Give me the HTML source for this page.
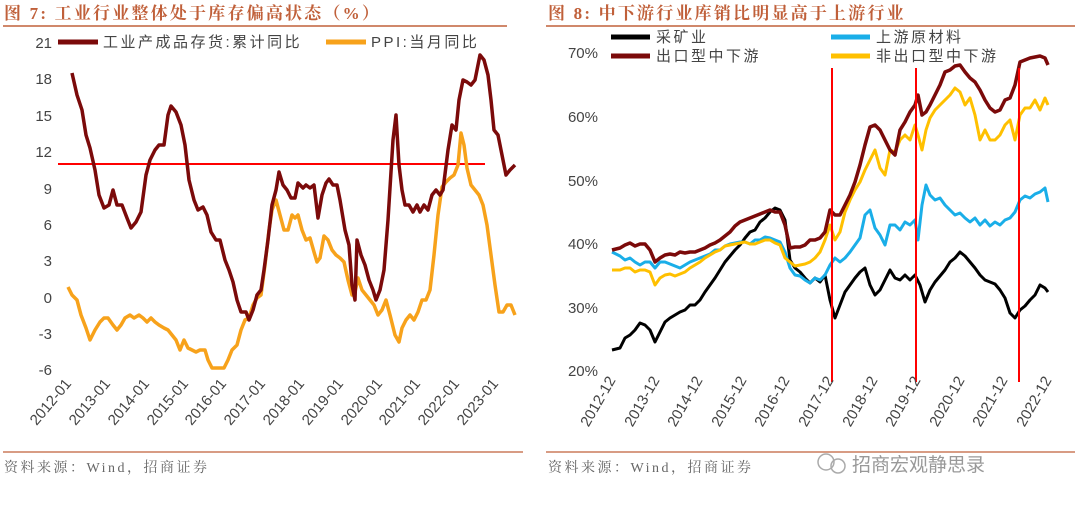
<!DOCTYPE html>
<html><head><meta charset="utf-8"><style>
body{margin:0;background:#fff;width:1080px;height:508px;overflow:hidden}
svg{display:block}
text{font-family:"Liberation Sans","Noto Sans CJK SC",sans-serif}
.t{font-family:"Liberation Serif","Noto Serif CJK SC",serif;font-weight:bold;fill:#c0603a;font-size:17px;letter-spacing:2.2px}
.ax{font-size:15px;fill:#444}
.lg{font-size:15px;fill:#444;letter-spacing:2.5px}
.src{font-family:"Liberation Serif","Noto Serif CJK SC",serif;font-size:14px;fill:#666;letter-spacing:2.5px}
</style></head><body>
<svg width="1080" height="508" viewBox="0 0 1080 508">
<text x="4" y="19" class="t">图 7:  工业行业整体处于库存偏高状态（%）</text>
<line x1="3" y1="26" x2="507" y2="26" stroke="#c0603a" stroke-width="1.5"/>
<text x="548" y="19" class="t">图 8:  中下游行业库销比明显高于上游行业</text>
<line x1="546" y1="26" x2="1075" y2="26" stroke="#c0603a" stroke-width="1.5"/>

<g class="ax" text-anchor="end">
<text x="52" y="48">21</text><text x="52" y="84">18</text><text x="52" y="121">15</text><text x="52" y="157">12</text><text x="52" y="194">9</text><text x="52" y="230">6</text><text x="52" y="266">3</text><text x="52" y="303">0</text><text x="52" y="339">-3</text><text x="52" y="375">-6</text>
</g>
<line x1="58" y1="42" x2="98" y2="42" stroke="#7b0a0a" stroke-width="5"/>
<text x="103" y="47" class="lg">工业产成品存货:累计同比</text>
<line x1="326" y1="42" x2="366" y2="42" stroke="#f7a21b" stroke-width="5"/>
<text x="371" y="47" class="lg">PPI:当月同比</text>
<line x1="58" y1="164" x2="485" y2="164" stroke="#f00" stroke-width="2"/>
<polyline fill="none" stroke="#f7a21b" stroke-width="3.5" stroke-linejoin="round" points="68,287 72,295 77,300 81,315 86,328 90,340 95,330 100,322 104,318 108,318 113,325 117,330 121,325 125,318 130,315 134,318 139,315 143,318 147,322 151,318 155,322 159,325 164,328 168,330 172,335 176,340 180,350 184,340 188,348 192,350 196,352 200,350 205,350 208,360 212,368 216,368 220,368 224,368 228,360 232,350 237,345 241,330 245,320 249,318 253,305 257,298 261,295 265,265 269,230 272,210 276,200 280,215 284,230 288,230 292,215 295,218 298,215 302,230 306,240 310,238 314,252 317,262 320,258 324,236 328,240 332,250 336,255 340,258 344,262 348,280 352,295 355,292 358,278 362,290 366,295 370,300 374,305 378,315 382,310 386,300 390,315 395,335 399,342 402,328 406,320 410,315 414,320 418,312 422,300 426,300 430,290 434,255 438,215 442,187 446,182 450,178 454,175 458,165 461,133 464,145 467,168 471,185 475,190 479,195 483,205 487,225 491,255 495,285 499,312 503,312 507,305 511,305 515,315"/>
<polyline fill="none" stroke="#7b0a0a" stroke-width="3.5" stroke-linejoin="round" points="72,73 77,95 82,110 86,135 90,148 95,170 99,195 104,208 109,205 113,190 117,205 122,205 127,218 131,228 136,222 141,212 146,175 150,160 155,150 159,145 164,145 168,115 171,106 176,112 181,125 185,145 189,180 194,200 198,210 203,207 207,215 211,232 216,240 220,240 225,260 229,270 233,282 237,300 241,312 246,312 249,320 253,310 257,295 261,290 264,270 268,240 272,205 276,190 279,172 283,185 287,190 291,198 295,198 298,183 303,188 306,185 310,188 314,185 318,218 322,195 326,183 329,179 333,185 337,185 340,200 345,230 349,245 352,285 355,300 357,240 361,255 365,265 369,280 373,290 376,300 380,290 384,270 388,220 393,140 396,115 399,165 402,190 405,205 409,205 413,212 417,205 420,212 424,205 428,210 432,195 436,190 440,195 443,190 448,150 452,125 456,130 459,100 463,80 467,82 471,85 475,80 478,65 480,55 484,60 488,75 491,100 494,130 498,135 502,155 506,175 510,170 515,165"/>
<g class="ax" text-anchor="end">
<text transform="translate(72,384) rotate(-50)">2012-01</text>
<text transform="translate(111,384) rotate(-50)">2013-01</text>
<text transform="translate(150,384) rotate(-50)">2014-01</text>
<text transform="translate(189,384) rotate(-50)">2015-01</text>
<text transform="translate(227,384) rotate(-50)">2016-01</text>
<text transform="translate(266,384) rotate(-50)">2017-01</text>
<text transform="translate(305,384) rotate(-50)">2018-01</text>
<text transform="translate(344,384) rotate(-50)">2019-01</text>
<text transform="translate(383,384) rotate(-50)">2020-01</text>
<text transform="translate(421,384) rotate(-50)">2021-01</text>
<text transform="translate(460,384) rotate(-50)">2022-01</text>
<text transform="translate(499,384) rotate(-50)">2023-01</text>
</g>

<g class="ax" text-anchor="end">
<text x="598" y="58">70%</text><text x="598" y="122">60%</text><text x="598" y="186">50%</text><text x="598" y="249">40%</text><text x="598" y="313">30%</text><text x="598" y="376">20%</text>
</g>
<line x1="611" y1="37" x2="650" y2="37" stroke="#000" stroke-width="5"/>
<text x="656" y="42" class="lg">采矿业</text>
<line x1="831" y1="37" x2="870" y2="37" stroke="#1aaee8" stroke-width="5"/>
<text x="876" y="42" class="lg">上游原材料</text>
<line x1="611" y1="56" x2="650" y2="56" stroke="#7b0a0a" stroke-width="5"/>
<text x="656" y="61" class="lg">出口型中下游</text>
<line x1="831" y1="56" x2="870" y2="56" stroke="#ffc000" stroke-width="5"/>
<text x="876" y="61" class="lg">非出口型中下游</text>

<polyline fill="none" stroke="#000" stroke-width="3" stroke-linejoin="round" points="612,350 620,348 625,338 630,335 635,330 640,323 645,325 650,330 655,342 660,332 665,322 670,318 675,315 680,312 685,310 690,305 695,305 700,300 705,292 710,285 715,278 720,270 725,262 730,256 735,250 740,245 745,238 750,232 755,230 760,222 765,218 770,212 775,208 780,210 785,220 790,260 795,268 800,272 805,278 810,283 815,278 820,282 825,275 830,300 835,318 840,305 845,292 850,285 855,278 860,272 865,268 870,285 875,295 880,290 885,280 890,270 895,278 900,280 905,275 910,280 915,275 920,285 925,302 930,290 935,282 940,276 945,270 950,262 955,258 960,252 965,256 970,262 975,268 980,275 985,280 990,282 995,284 1000,290 1005,298 1010,313 1015,318 1020,310 1025,306 1030,300 1035,295 1040,285 1045,288 1048,292"/>
<polyline fill="none" stroke="#1aaee8" stroke-width="3" stroke-linejoin="round" points="612,252 620,256 625,260 630,258 635,262 640,265 645,262 650,262 655,268 660,262 665,262 670,264 675,266 680,268 685,265 690,262 695,260 700,258 710,254 715,250 720,250 725,246 730,244 740,242 745,242 750,244 755,240 760,240 765,237 770,238 775,240 780,242 785,252 790,268 795,275 800,276 805,280 810,283 815,278 820,280 825,275 830,265 835,258 840,262 845,258 850,252 855,245 860,238 865,215 870,210 875,228 880,235 885,245 890,225 895,225 900,230 905,222 910,225 915,220 918,240 922,205 926,185 930,195 935,200 940,198 945,205 950,210 955,215 960,213 965,218 970,222 975,218 980,225 985,220 990,226 995,222 1000,225 1005,220 1010,218 1015,212 1020,200 1025,196 1030,198 1035,194 1040,192 1045,188 1048,202"/>
<polyline fill="none" stroke="#ffc000" stroke-width="3" stroke-linejoin="round" points="612,270 620,270 625,268 630,268 635,272 640,270 645,270 650,272 655,285 660,278 665,275 670,274 675,276 680,274 685,272 690,268 695,265 700,262 705,258 710,255 715,252 720,250 725,246 730,245 740,243 745,242 750,244 755,244 760,242 765,240 770,240 775,243 780,245 785,258 790,262 795,266 800,265 805,264 810,262 815,258 820,252 825,240 830,225 835,240 840,232 845,212 850,200 855,190 860,182 865,170 870,160 875,150 880,168 885,175 890,150 895,152 900,140 905,135 910,140 915,125 918,135 922,150 926,130 930,118 935,110 940,105 945,100 950,95 955,88 960,92 965,105 970,98 975,115 980,140 985,130 990,140 995,140 1000,135 1005,125 1010,120 1015,140 1020,115 1025,108 1030,108 1035,100 1040,110 1045,98 1048,105"/>
<polyline fill="none" stroke="#7b0a0a" stroke-width="3.5" stroke-linejoin="round" points="612,250 620,248 625,245 630,243 635,246 640,244 645,244 650,250 655,262 660,258 665,255 670,254 675,255 680,252 685,253 690,252 695,252 700,250 705,248 710,245 715,243 720,240 725,236 730,232 735,226 740,222 745,220 750,218 755,216 760,214 765,212 770,210 775,212 780,212 785,225 790,248 795,247 800,247 805,245 810,240 815,240 820,238 825,232 830,210 835,215 840,215 845,205 850,195 855,182 860,165 865,145 870,127 875,125 880,130 885,140 890,150 895,155 900,130 905,122 910,112 915,105 918,95 922,115 926,112 930,105 935,95 940,85 945,72 950,70 955,66 960,65 965,72 970,78 975,82 980,90 985,100 990,108 995,112 1000,110 1005,100 1010,98 1015,85 1020,62 1025,60 1030,58 1035,57 1040,56 1045,58 1048,65"/>
<g stroke="#f00" stroke-width="2">
<line x1="832" y1="68" x2="832" y2="382"/><line x1="916" y1="68" x2="916" y2="382"/><line x1="1019" y1="68" x2="1019" y2="382"/>
</g>
<g class="ax" text-anchor="end">
<text transform="translate(616,380) rotate(-60)">2012-12</text>
<text transform="translate(660,380) rotate(-60)">2013-12</text>
<text transform="translate(703,380) rotate(-60)">2014-12</text>
<text transform="translate(747,380) rotate(-60)">2015-12</text>
<text transform="translate(790,380) rotate(-60)">2016-12</text>
<text transform="translate(834,380) rotate(-60)">2017-12</text>
<text transform="translate(878,380) rotate(-60)">2018-12</text>
<text transform="translate(921,380) rotate(-60)">2019-12</text>
<text transform="translate(965,380) rotate(-60)">2020-12</text>
<text transform="translate(1008,380) rotate(-60)">2021-12</text>
<text transform="translate(1052,380) rotate(-60)">2022-12</text>
</g>

<line x1="3" y1="452" x2="523" y2="452" stroke="#c0603a" stroke-width="1.2"/>
<line x1="546" y1="452" x2="1075" y2="452" stroke="#c0603a" stroke-width="1.2"/>
<text x="4" y="472" class="src">资料来源：Wind，招商证券</text>
<text x="548" y="472" class="src">资料来源：Wind，招商证券</text>
<circle cx="826" cy="462" r="8" fill="none" stroke="#aaa" stroke-width="1.5"/>
<circle cx="838" cy="466" r="7" fill="none" stroke="#aaa" stroke-width="1.5"/>
<text x="852" y="471" font-size="19" fill="#999">招商宏观静思录</text>
</svg>
</body></html>
